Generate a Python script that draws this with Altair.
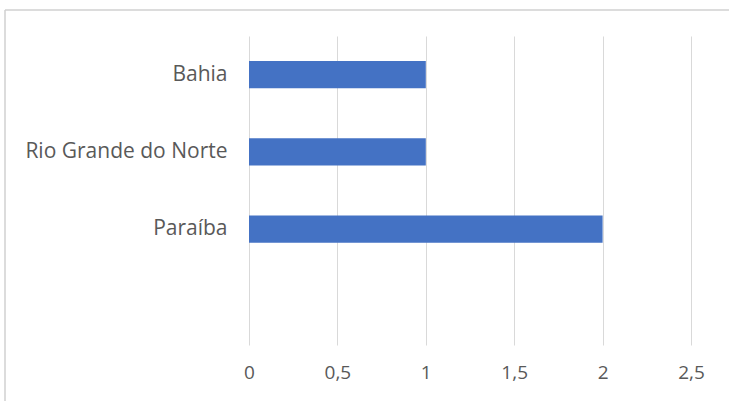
import altair as alt
import pandas as pd

categories = ["Bahia", "Rio Grande do Norte", "Paraíba"]
values = [1, 1, 2]
domain_order = ["Bahia", "Rio Grande do Norte", "Paraíba", ""]
x_ticks = [0, 0.5, 1, 1.5, 2, 2.5]

df = pd.DataFrame({"estado": categories, "valor": values})

FONT = "Open Sans"
TEXT = "#595959"
GRID = "#d9d9d9"

bars = alt.Chart(df).mark_bar(color="#4472C4").encode(
    x=alt.X("valor:Q",
            scale=alt.Scale(domain=[0, 2.5], nice=False),
            axis=alt.Axis(values=x_ticks, title=None, grid=True, gridColor=GRID,
                          gridWidth=1, domain=False, ticks=False,
                          labelExpr="replace(toString(datum.value), '.', ',')",
                          labelFont=FONT, labelFontSize=19, labelColor=TEXT,
                          labelFlush=False, labelPadding=18)),
    y=alt.Y("estado:N",
            scale=alt.Scale(domain=domain_order, paddingInner=0.65, paddingOuter=0.325),
            axis=alt.Axis(title=None, domain=False, ticks=False, grid=False,
                          labelFont=FONT, labelFontSize=21, labelColor=TEXT,
                          labelLimit=400, labelPadding=22)),
)

frame = alt.Data(values=[{"k": 1}])
left_line = alt.Chart(frame).mark_rule(color="#d0d0d0", strokeWidth=1.5).encode(
    x=alt.value(-244), y=alt.value(-26), y2=alt.value(370))
top_line = alt.Chart(frame).mark_rule(color="#d0d0d0", strokeWidth=1.5).encode(
    x=alt.value(-244), x2=alt.value(490), y=alt.value(-26))

chart = alt.layer(bars, left_line, top_line).properties(
    width=442, height=309,
    autosize=alt.AutoSizeParams(type="none"),
    padding={"left": 249, "top": 36, "right": 38, "bottom": 56},
).configure(background="white", view=alt.ViewConfig(stroke=None))

chart.save("out.html", embed_options={"renderer": "svg", "actions": False})
